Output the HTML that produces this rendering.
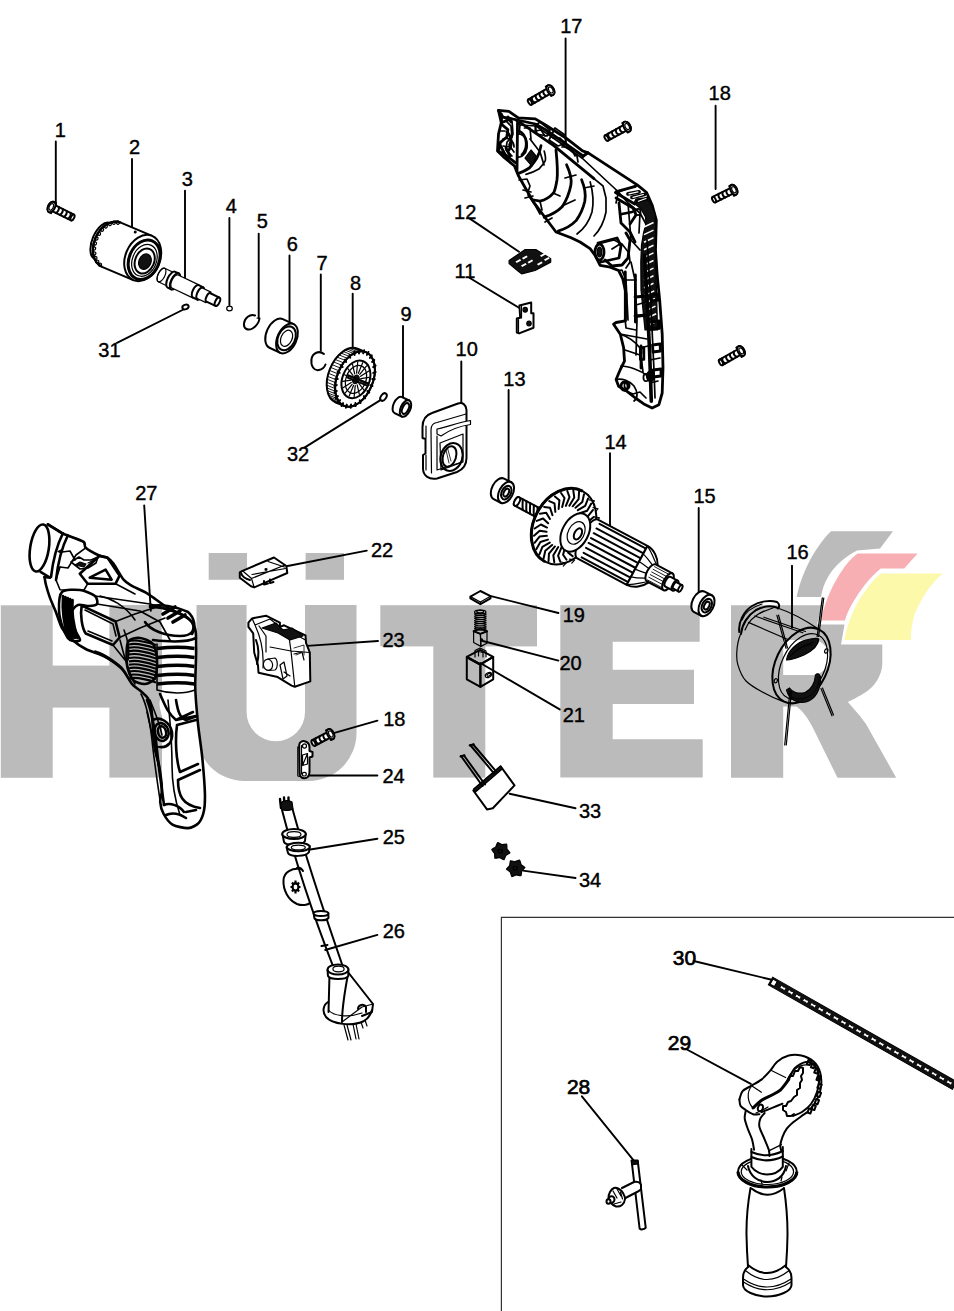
<!DOCTYPE html>
<html><head><meta charset="utf-8">
<style>
html,body{margin:0;padding:0;background:#fff;width:954px;height:1311px;overflow:hidden}
svg{position:absolute;left:0;top:0;display:block}
text{font-family:"Liberation Sans",sans-serif;font-size:20px;fill:#000;text-anchor:middle;stroke:#000;stroke-width:0.4}
.b text{font-size:21px;stroke-width:0.7}
.ln{stroke:#000;stroke-width:1.9;fill:none;stroke-linecap:round}
.p{stroke:#000;stroke-width:1.2;fill:none;stroke-linejoin:round;stroke-linecap:round}
.pw{stroke:#000;stroke-width:1.2;fill:#fff;stroke-linejoin:round;stroke-linecap:round}
.pk{stroke:#000;stroke-width:1.2;fill:#111;stroke-linejoin:round;stroke-linecap:round}
.t{stroke:#000;stroke-width:2;fill:none;stroke-linejoin:round;stroke-linecap:round}
.tw{stroke:#000;stroke-width:2;fill:#fff;stroke-linejoin:round;stroke-linecap:round}
.h{stroke:#000;stroke-width:0.8;fill:none;stroke-linecap:round}
#p_housing .p{stroke-width:1.7}
#p_housing .t{stroke-width:2.8}
#p_drill .p{stroke-width:1.6}
#p_drill .t{stroke-width:2.6}
</style></head>
<body>
<svg width="954" height="1311" viewBox="0 0 954 1311">
<g id="wm" fill="#bbbbbb">
<rect x="0.8" y="605.3" width="51.9" height="172.5"/>
<rect x="109.4" y="605" width="52.6" height="172.6"/>
<rect x="52" y="665.6" width="58" height="42"/>
<path d="M196.5,605 H246.6 V712 A29.2,29.2 0 0 0 305,712 V605 H356.5 V733 A48,48 0 0 1 308.5,781 H244.5 A48,48 0 0 1 196.5,733 Z"/>
<rect x="208.7" y="553" width="38.3" height="26.8"/>
<rect x="305.6" y="553" width="38.4" height="26.8"/>
<rect x="380.3" y="605.2" width="156.7" height="41.2"/>
<rect x="433.3" y="645" width="52" height="132.6"/>
<path d="M560.3,605.2 H699.7 V641.7 H612.7 V669.8 H694 V704 H612.7 V739.3 H702.7 V777.6 H560.3 Z"/>
<path fill-rule="evenodd" d="M731,605.2 L822,605.2 L817,624.6 L844.5,624.6 L841,644.5 L882.3,644.5 L882.3,664 C882,675 875,686 866,692 C858,697 852,700 847.8,702 C855,710 862,718 866,724 L896.2,777.8 L837.5,777.8 L814,730 C808,718 802,710 796.4,706.6 L783.2,706.6 L783.2,777.8 L731,777.8 Z M783.2,640 H812 A17.5,17.5 0 0 1 812,675 H783.2 Z"/>
<path d="M831,531.2 H893 L880,548.5 L857,550.5 C845,557 834,566 828,577 C824,584 822,590 821,597 H796.6 C800,580 808,562 816,550 C821,542 826,536 831,531.2 Z"/>
</g>
<path d="M857.6,553.5 H917.6 L904.2,568.4 H880.7 C870,577 860,590 852,604 C849,610 846,615 845,620.6 H821 C824,605 830,590 838,577 C844,567 850,559 857.6,553.5 Z" fill="#f7afb4"/>
<path d="M880.7,573.4 H942.8 C935,580 928,589 924.3,595.2 C919,604 915,612 913.4,618.7 C911.5,626 911,633 910.9,640 H844.4 C846,630 849,621 853,612 C857,603 861,596 866,590 C870,584 875,578 880.7,573.4 Z" fill="#fcf9aa"/>
<path d="M501.4,1311 V917.4 H954" fill="none" stroke="#333" stroke-width="1.2"/>
<g class="ln">
<path d="M55.8,141.5V205.7 M132,159V234.6 M185,190.6V281 M229.4,218V305 M258.7,233.6V318 M289.5,255.4V326 M320.8,274.5V350.8 M352.7,293.6V352 M403,326V402.6 M461.3,361.5V405"/>
<path d="M469.8,278L521,309 M469.8,218.6L519,251.8 M508.6,390V482.8 M610,453.3V536 M698.7,508V594.8 M792,565.7V627.8 M565.6,38.5V144 M715.6,105.8V189"/>
<path d="M377.4,720.6L329.3,734.3 M485,594.6L558.4,613 M482.7,641L558.4,660.6 M480.3,663L559.7,709.4 M286.3,566.2L366.8,550.6 M307.2,645.9L378,641 M307.3,775.5H377.4 M308.7,849.7L377.4,838.7 M325.2,950L377.4,934.9 M144.2,505.4L150.8,610.8"/>
<path d="M581.9,1096.3L634,1160.8 M686,1049L750.8,1083.8 M693.6,961L770.7,979.5 M117,342.8L187.4,307.5 M304.5,447.6L380.8,399.9 M509.6,793.7L575.5,808.3 M523,870.6L575.5,878"/>
</g>
<g id="p_topleft"><g transform="translate(53.6,208.1) rotate(26.4)"><path class="tw" d="M0,-3.3 A1.6,3.3 0 0 0 0,3.3 L21.1,3.3 L21.1,-3.3 Z"/><ellipse class="tw" cx="21.1" cy="0" rx="1.6" ry="3.3"/><path class="t" d="M4.2,-3.3 C5.6,-1.3 5.6,1.3 4.2,3.3"/><path class="t" d="M8.6,-3.3 C10,-1.3 10,1.3 8.6,3.3"/><path class="t" d="M13,-3.3 C14.4,-1.3 14.4,1.3 13,3.3"/><path class="t" d="M17.4,-3.3 C18.8,-1.3 18.8,1.3 17.4,3.3"/><path class="tw" d="M-2.4,-5.6 A3.4,5.6 0 0 0 -2.4,5.6 L0,5.6 L0,-5.6 Z"/><ellipse class="tw" cx="-2.4" cy="0" rx="3.4" ry="5.6"/><ellipse class="p" cx="-2.6" cy="0" rx="2" ry="3.5"/></g><g transform="translate(142.7,258) rotate(23)"><path class="tw" d="M-44,-19.5 A9.8,19.5 0 0 0 -44,19.5 L-30,19.5 L-30,-19.5 Z"/><path class="tw" d="M-34,-24 A17.3,24 0 0 0 -34,24 L0,24 L0,-24 Z"/><ellipse class="tw" cx="0" cy="0" rx="17.3" ry="24"/><ellipse class="p" cx="-36.6" cy="-22.9" rx="1.5" ry="1.6"/><ellipse class="p" cx="-40.3" cy="-21.2" rx="1.5" ry="1.6"/><ellipse class="p" cx="-43.5" cy="-18.4" rx="1.5" ry="1.6"/><ellipse class="p" cx="-46.3" cy="-14.7" rx="1.5" ry="1.6"/><ellipse class="p" cx="-48.4" cy="-10.2" rx="1.5" ry="1.6"/><ellipse class="p" cx="-49.6" cy="-5.2" rx="1.5" ry="1.6"/><ellipse class="p" cx="-50.1" cy="0" rx="1.5" ry="1.6"/><ellipse class="p" cx="-49.6" cy="5.2" rx="1.5" ry="1.6"/><ellipse class="p" cx="-48.4" cy="10.2" rx="1.5" ry="1.6"/><ellipse class="p" cx="-46.3" cy="14.7" rx="1.5" ry="1.6"/><ellipse class="p" cx="-43.5" cy="18.4" rx="1.5" ry="1.6"/><ellipse class="p" cx="-40.3" cy="21.2" rx="1.5" ry="1.6"/><ellipse class="p" cx="-36.6" cy="22.9" rx="1.5" ry="1.6"/><path d="M-34,-24 A17.3,24 0 0 0 -34,24" fill="none" stroke="#000" stroke-width="2.2"/><ellipse fill="none" stroke="#000" stroke-width="3" cx="2" cy="1" rx="15" ry="20.5"/><ellipse class="p" cx="2.5" cy="1.5" rx="12" ry="16.5"/><ellipse class="t" cx="3" cy="2" rx="9.5" ry="13"/><ellipse class="pk" cx="3.5" cy="2.5" rx="6" ry="8"/><ellipse class="pk" cx="-17" cy="-21" rx="0.9" ry="0.9"/></g><g transform="translate(161.5,275) rotate(25.5)"><path class="pw" d="M0,-7.5 A3.4,7.5 0 0 0 0,7.5 L11,7.5 L11,-7.5 Z"/><path class="tw" d="M11,-8.8 A4,8.8 0 0 0 11,8.8 L15,8.8 L15,-8.8 Z"/><ellipse class="tw" cx="15" cy="0" rx="4" ry="8.8"/><path class="pw" d="M15,-7.2 A3.2,7.2 0 0 0 15,7.2 L38,7.2 L38,-7.2 Z"/><path class="tw" d="M38,-6.8 A3.1,6.8 0 0 0 38,6.8 L43,6.8 L43,-6.8 Z"/><ellipse class="tw" cx="43" cy="0" rx="3.1" ry="6.8"/><path class="pw" d="M43,-5.8 A2.6,5.8 0 0 0 43,5.8 L52,5.8 L52,-5.8 Z"/><path class="tw" d="M52,-4.6 A2.1,4.6 0 0 0 52,4.6 L62,4.6 L62,-4.6 Z"/><ellipse class="tw" cx="62" cy="0" rx="2.1" ry="4.6"/><ellipse class="p" cx="0" cy="0" rx="3.4" ry="7.5"/></g><ellipse class="p" cx="229.5" cy="308.5" rx="2.8" ry="2.4"/><ellipse class="tw" cx="185.5" cy="307" rx="3.2" ry="2.2" transform="rotate(-20 185.5 307)"/><path class="t" d="M255,315.5 C250,313.5 244.5,318 244,323.5 C243.5,329 248,331 252.5,328.5 C256,326.5 259,322 259.5,318.5" /><path class="p" d="M259.5,318.5 L257,318"/><g transform="translate(287,338.5) rotate(25)"><path class="tw" d="M-12,-15.8 A9.5,15.8 0 0 0 -12,15.8 L0,15.8 L0,-15.8 Z"/><ellipse class="tw" cx="0" cy="0" rx="9.5" ry="15.8"/><ellipse class="t" cx="-0.5" cy="0" rx="8.5" ry="12.5"/><ellipse class="p" cx="-0.5" cy="0" rx="5.5" ry="8.5"/></g><path class="t" d="M324,354 C319,350 312.5,353 311.5,359 C310.5,366 314,371 319,370 C322,369.5 324.5,367 325.5,364.5"/><g transform="translate(355,379) rotate(22)"><path class="tw" d="M-9,-29 A18,29 0 0 0 -9,29 L0,29 L0,-29 Z"/><ellipse class="tw" cx="0" cy="0" rx="18" ry="29"/><path class="h" d="M-9,-29 L0,-29 M-10.9,-28.8 L-1.9,-28.8 M-12.9,-28.3 L-3.9,-28.3 M-14.7,-27.5 L-5.7,-27.5 M-16.5,-26.3 L-7.5,-26.3 M-18.3,-24.8 L-9.3,-24.8 M-19.9,-23.1 L-10.9,-23.1 M-21.4,-21.1 L-12.4,-21.1 M-22.7,-18.8 L-13.7,-18.8 M-23.9,-16.3 L-14.9,-16.3 M-24.9,-13.6 L-15.9,-13.6 M-25.7,-10.7 L-16.7,-10.7 M-26.3,-7.8 L-17.3,-7.8 M-26.7,-4.7 L-17.7,-4.7 M-27,-1.6 L-18,-1.6 M-27,1.6 L-18,1.6 M-26.7,4.7 L-17.7,4.7 M-26.3,7.8 L-17.3,7.8 M-25.7,10.7 L-16.7,10.7 M-24.9,13.6 L-15.9,13.6 M-23.9,16.3 L-14.9,16.3 M-22.7,18.8 L-13.7,18.8 M-21.4,21.1 L-12.4,21.1 M-19.9,23.1 L-10.9,23.1 M-18.3,24.8 L-9.3,24.8 M-16.5,26.3 L-7.5,26.3 M-14.7,27.5 L-5.7,27.5 M-12.9,28.3 L-3.9,28.3 M-10.9,28.8 L-1.9,28.8 M-9,29 L0,29"/><ellipse class="t" cx="0" cy="0" rx="18" ry="29"/><path class="t" d="M16.5,0 L18.8,0 M16,6.5 L18.3,7.3 M14.6,12.5 L16.6,14.1 M12.4,17.9 L14.1,20.1 M9.4,22.2 L10.7,24.9 M5.9,25.2 L6.7,28.3 M2,26.8 L2.3,30.1 M-2,26.8 L-2.3,30.1 M-5.9,25.2 L-6.7,28.3 M-9.4,22.2 L-10.7,24.9 M-12.4,17.9 L-14.1,20.1 M-14.6,12.5 L-16.6,14.1 M-16,6.5 L-18.3,7.3 M-16.5,0 L-18.8,0 M-16,-6.5 L-18.3,-7.3 M-14.6,-12.5 L-16.6,-14.1 M-12.4,-17.9 L-14.1,-20.1 M-9.4,-22.2 L-10.7,-24.9 M-5.9,-25.2 L-6.7,-28.3 M-2,-26.8 L-2.3,-30.1 M2,-26.8 L2.3,-30.1 M5.9,-25.2 L6.7,-28.3 M9.4,-22.2 L10.7,-24.9 M12.4,-17.9 L14.1,-20.1 M14.6,-12.5 L16.6,-14.1 M16,-6.5 L18.3,-7.3"/><ellipse class="t" cx="1" cy="0" rx="13.5" ry="19.5"/><ellipse class="p" cx="1" cy="0" rx="10" ry="14.5"/><path class="p" d="M5.5,0 L13.5,0 M5.2,2.5 L12.5,6.9 M4.2,4.6 L9.8,12.7 M2.7,6 L5.8,16.6 M1,6.5 L1,18 M-0.7,6 L-3.8,16.6 M-2.2,4.6 L-7.8,12.7 M-3.2,2.5 L-10.5,6.9 M-3.5,0 L-11.5,0 M-3.2,-2.5 L-10.5,-6.9 M-2.2,-4.6 L-7.8,-12.7 M-0.7,-6 L-3.8,-16.6 M1,-6.5 L1,-18 M2.7,-6 L5.8,-16.6 M4.2,-4.6 L9.8,-12.7 M5.2,-2.5 L12.5,-6.9"/><ellipse class="pk" cx="1" cy="0" rx="3" ry="4.5"/><path class="t" d="M-8,-1 L14,-1 M-8,1.5 L14,1.5"/></g><g transform="translate(405.5,408.5) rotate(25)"><path class="tw" d="M-8,-8.8 A4.8,8.8 0 0 0 -8,8.8 L0,8.8 L0,-8.8 Z"/><ellipse class="tw" cx="0" cy="0" rx="4.8" ry="8.8"/><ellipse class="t" cx="0" cy="0" rx="3" ry="5.8"/></g><ellipse class="tw" cx="383.5" cy="397" rx="2.6" ry="4.2" transform="rotate(35 383.5 397)"/></g>
<g id="p_mid"><path class="tw" d="M422.5,427 C422.5,419 426,415 432,413 L458,403.5 C462.5,402 466,404.5 466.5,410 L466.5,458 C466.5,466 463,469.5 457,472 L437,478.5 C429,480 423.5,476 423,469 L423,455 L425.5,453.5 L425.5,439 L422.5,438 Z"/><path class="p" d="M431.5,473 L431,430 C431,425 433.5,423 437,422.5 L466,414 M426,426 L426,438 M426,455 L426,470"/><path class="pw" d="M437,429 C445,428 458,422 470.5,420.5 L470.5,424.5 C460,426 448,431 441,436 L437,434 Z"/><path class="p" d="M437,436 L437,470 L462,462"/><path class="p" d="M440,443 L463,434 L463,462 L441,470 Z"/><ellipse class="t" cx="451.5" cy="457" rx="10.8" ry="14.2" transform="rotate(18 451.5 457)"/><ellipse class="t" cx="449.5" cy="456.5" rx="6.5" ry="10.5" transform="rotate(18 449.5 456.5)"/><path class="h" d="M446,450 L449,463 M447.5,448 L451,461"/><path class="tw" d="M519.4,305.5 L531.2,302.5 L531.2,313.2 L533.5,313.2 L533.5,327.7 L519.1,333.4 L516.8,332.6 L516.8,318.5 L520.2,317.7Z"/><path class="p" d="M521.5,306 L521.5,318 M518.5,319.5 L518.5,332.5"/><ellipse class="pk" cx="525.2" cy="309.8" rx="2.2" ry="2.4"/><ellipse class="pk" cx="529" cy="323.6" rx="2.2" ry="2.4"/><path class="pk" d="M509.1,260.6 L525.2,249.5 L535.8,249.5 L550.7,258.7 L550.7,262.1 L535.1,270.5 L521.7,273.9 L518.3,271.2 L509.1,263.6Z"/><path d="M515.5,261.5 l4.5,-2.4 l1.2,1.4 l-4.5,2.4 Z" fill="#fff"/><path d="M522,258 l4.5,-2.4 l1.2,1.4 l-4.5,2.4 Z" fill="#fff"/><path d="M521,265.5 l4.5,-2.4 l1.2,1.4 l-4.5,2.4 Z" fill="#fff"/><path d="M527.5,262 l4.5,-2.4 l1.2,1.4 l-4.5,2.4 Z" fill="#fff"/><path d="M540,255.5 l4.5,-2.4 l1.2,1.4 l-4.5,2.4 Z" fill="#fff"/><path d="M544,259.5 l4.5,-2.4 l1.2,1.4 l-4.5,2.4 Z" fill="#fff"/><path d="M537,264 l4.5,-2.4 l1.2,1.4 l-4.5,2.4 Z" fill="#fff"/><g transform="translate(506,492.5) rotate(27)"><path class="tw" d="M-8,-11.5 A6.9,11.5 0 0 0 -8,11.5 L0,11.5 L0,-11.5 Z"/><ellipse class="tw" cx="0" cy="0" rx="6.9" ry="11.5"/><ellipse class="t" cx="0.3" cy="0" rx="4.6" ry="7.2"/><ellipse class="t" cx="0.3" cy="0" rx="2.4" ry="4.2"/></g><g transform="translate(706.5,605.5) rotate(27)"><path class="tw" d="M-8,-11.5 A6.9,11.5 0 0 0 -8,11.5 L0,11.5 L0,-11.5 Z"/><ellipse class="tw" cx="0" cy="0" rx="6.9" ry="11.5"/><ellipse class="t" cx="0.3" cy="0" rx="4.6" ry="7.2"/><ellipse class="t" cx="0.3" cy="0" rx="2.4" ry="4.2"/></g><path class="tw" d="M470.4,596.6 L480.4,591 L490.5,596.2 L490.5,598.4 L480.4,604.2 L470.4,598.4Z"/><path class="p" d="M470.4,596.6 L480.4,602 L490.5,596.2 M480.4,602 L480.4,604.2"/><path class="p" stroke-width="1.6" d="M474.5,612 C474.5,609.5 486,609.5 486,612 C486,614.5 474.5,614.5 474.5,612 Z M474.6,614 C476,615.8 485,615.8 486,614 M474.6,614 C476,612.8 485,612.8 486,614.4 M474.6,616.1 C476,617.9 485,617.9 486,616.1 M474.6,616.1 C476,614.9 485,614.9 486,616.5 M474.6,618.2 C476,620 485,620 486,618.2 M474.6,618.2 C476,617 485,617 486,618.6 M474.6,620.3 C476,622.1 485,622.1 486,620.3 M474.6,620.3 C476,619.1 485,619.1 486,620.7 M474.6,622.4 C476,624.2 485,624.2 486,622.4 M474.6,622.4 C476,621.2 485,621.2 486,622.8 M474.6,624.5 C476,626.3 485,626.3 486,624.5 M474.6,624.5 C476,623.3 485,623.3 486,624.9 M474.6,626.6 C476,628.4 485,628.4 486,626.6 M474.6,626.6 C476,625.4 485,625.4 486,627 M474.6,628.7 C476,630.5 485,630.5 486,628.7 M474.6,628.7 C476,627.5 485,627.5 486,629.1" /><ellipse class="p" cx="480.2" cy="611.6" rx="3.5" ry="1.4"/><path class="t" d="M473.6,631.1 L480.4,628.6 L487,631.3 L480.4,633.9Z"/><path class="p" d="M473.6,631.1 L473.6,642.5 L480.9,646.4 L480.4,633.9Z"/><path class="p" d="M480.4,633.9 L480.9,646.4 L487,643.3 L487,631.3Z"/><ellipse class="pk" cx="481.5" cy="640" rx="1.2" ry="1.2"/><path class="t" d="M466.8,656.9 L480,649.9 L493.2,656.9 L480.4,664.4Z"/><path class="t" d="M466.8,656.9 L466.8,679.3 L480.4,686.8 L480.4,664.4Z"/><path class="t" d="M480.4,664.4 L480.4,686.8 L493.2,679.3 L493.2,656.9Z"/><path class="p" d="M475,657 L475,650.5 L480,648 L486,651 L486,657 M478.5,656 L478.5,651.5 L483,652.5 L483,657"/><path class="t" d="M469,658.5 L479,664"/><ellipse class="p" cx="488.5" cy="675" rx="2.2" ry="3.4" transform="rotate(60 488.5 675)"/><ellipse class="p" cx="488.8" cy="674.8" rx="1.2" ry="2" transform="rotate(60 488.8 674.8)"/><path class="tw" d="M239.8,572.4 L242.5,570.8 L274,557.5 L286.3,566 L287.3,573 L254.2,587.4 L251,586.3 L239.8,577.8Z"/><path class="p" d="M242.5,570.8 L251.5,578.5 L254.2,587.4 M251.5,578.5 L285,565 M252,574.5 L285.5,568.5 M268,561.5 L284.5,567"/><path class="t" d="M241,573 C242,576 246,579 250,580"/><path class="t" d="M264,581 L264,584.5 L268,583.5 M270,579.5 L270,583 L273.5,582"/><ellipse class="pk" cx="266" cy="569.5" rx="1" ry="0.8"/><path class="tw" d="M248.4,622.6 L252.1,618.4 L266,615.7 L279.9,622.6 L279.9,626.9 L284.1,625.3 L305.5,635.4 L306,642.9 L309.8,652.5 L310.3,681.4 L294.8,686.7 L291.6,685.6 L277.7,677.1 L258.5,672.8 L258,665.4 L254.2,652.5 L253.2,633.3 L248.4,626.9Z"/><path class="p" d="M252.1,618.4 L255,625 L270,619 L279.9,626.9 M255,625 C262,640 264,652 263,668 M259,626 L266,636 L266,652 M270,629 L287,630 L305.5,640 L306,643 M288,630 L291,651 L309.8,652.5 M291,651 L294.8,686.7 M291,651 L270,647"/><path class="pk" d="M262,628 L276,623 L283,630 L292,628 L303,636 L290,640 L278,633 Z"/><path class="t" d="M256,640 C259,648 259,656 257,664"/><ellipse class="pw" cx="268" cy="664.8" rx="4.6" ry="5.6" transform="rotate(-10 268 664.8)"/><path class="p" d="M268,659 L275,658 C278,660 278,668 275,670 L268,670.4"/><path class="p" d="M280,665 L284,662 L287,676 L283,679 Z M294,654 L302,652 L304,660 M284,672 L290,676"/><path class="h" d="M294,648 L304,645 L304,655 M296,655 L301,653"/><path class="tw" d="M299.2,745 C299.2,741.5 303,740.5 305.5,741.5 C308.5,742.5 309.5,745 309.5,747.5 L309.5,751 L312.5,752 L312.5,756.5 L309.5,757.5 L309.5,772 C309.5,776.5 307,778.5 304,778.3 C301,778 299.6,776 299.6,772.5 Z"/><path class="p" d="M301.5,745.5 L301.5,774 M299.6,748 L297.8,747 L297.8,776 L299.6,776.5"/><ellipse class="p" cx="304.5" cy="746" rx="2" ry="2.2"/><ellipse class="p" cx="304.3" cy="774.2" rx="2" ry="1.8"/><path class="p" d="M302.5,755 L307.5,753.5 L307.5,764 L302.5,765.5 Z M302.5,765.5 L307.5,753.5"/><g transform="translate(328.5,735.2) rotate(152.5)"><path class="tw" d="M0,-3.1 A1.6,3.1 0 0 0 0,3.1 L16.9,3.1 L16.9,-3.1 Z"/><ellipse class="tw" cx="16.9" cy="0" rx="1.6" ry="3.1"/><path class="t" d="M4.2,-3.1 C5.6,-1.2 5.6,1.2 4.2,3.1"/><path class="t" d="M8.6,-3.1 C10,-1.2 10,1.2 8.6,3.1"/><path class="t" d="M13,-3.1 C14.4,-1.2 14.4,1.2 13,3.1"/><path class="tw" d="M-2.4,-5.4 A3.2,5.4 0 0 0 -2.4,5.4 L0,5.4 L0,-5.4 Z"/><ellipse class="tw" cx="-2.4" cy="0" rx="3.2" ry="5.4"/><ellipse class="p" cx="-2.6" cy="0" rx="1.9" ry="3.3"/></g><path class="tw" d="M473.3,790.5 L500.8,766.5 L514.5,785.4 L492.8,808.2 L487,809.4Z"/><path class="pk" d="M473.6,789 L500.5,766 L502.5,768.8 L475.5,792 Z"/><path class="t" d="M461,756 L482.5,786 M464,755.5 L485,784.5"/><path class="t" d="M460.5,756.5 L464.5,755.2"/><path class="t" d="M470.2,745 L494,773.3 M473.2,744.5 L496.5,771.8"/><path class="t" d="M469.7,745.5 L473.7,744.2"/><path class="pk" d="M509.9,852.8 C509.8,853.2 506.2,855 505.9,855.4 C505.5,855.9 504.3,859.7 503.9,859.8 C503.6,860 500.2,857.8 499.7,857.7 C499.1,857.6 495.2,858.5 494.9,858.2 C494.6,858 494.8,854 494.6,853.5 C494.4,853 491.7,850 491.7,849.6 C491.8,849.2 495.4,847.4 495.7,847 C496.1,846.5 497.3,842.7 497.7,842.6 C498,842.4 501.4,844.6 501.9,844.7 C502.5,844.8 506.4,843.9 506.7,844.2 C507,844.4 506.8,848.4 507,848.9 C507.2,849.4 509.9,852.4 509.9,852.8Z"/><ellipse class="p" stroke="#fff" cx="500.3" cy="851.2" rx="2.2" ry="1.8"/><path class="pk" d="M524.9,867.5 C524.9,867.9 521.9,870.6 521.7,871.1 C521.5,871.6 521.3,875.6 521,875.8 C520.7,876.1 516.8,874.8 516.3,874.9 C515.7,874.9 512.2,876.8 511.8,876.6 C511.5,876.5 510.6,872.5 510.3,872.1 C510,871.6 506.6,869.5 506.5,869.1 C506.5,868.7 509.5,866 509.7,865.5 C509.9,865 510.1,861 510.4,860.8 C510.7,860.5 514.6,861.8 515.1,861.7 C515.7,861.7 519.2,859.8 519.6,860 C519.9,860.1 520.8,864.1 521.1,864.5 C521.4,865 524.8,867.1 524.9,867.5Z"/><ellipse class="p" stroke="#fff" cx="515.2" cy="868.3" rx="2.2" ry="1.8"/><g transform="translate(548.5,91.3) rotate(150)"><path class="tw" d="M0,-3.1 A1.6,3.1 0 0 0 0,3.1 L21.4,3.1 L21.4,-3.1 Z"/><ellipse class="tw" cx="21.4" cy="0" rx="1.6" ry="3.1"/><path class="t" d="M4.2,-3.1 C5.6,-1.2 5.6,1.2 4.2,3.1"/><path class="t" d="M8.6,-3.1 C10,-1.2 10,1.2 8.6,3.1"/><path class="t" d="M13,-3.1 C14.4,-1.2 14.4,1.2 13,3.1"/><path class="t" d="M17.4,-3.1 C18.8,-1.2 18.8,1.2 17.4,3.1"/><path class="tw" d="M-2.4,-5.4 A3.2,5.4 0 0 0 -2.4,5.4 L0,5.4 L0,-5.4 Z"/><ellipse class="tw" cx="-2.4" cy="0" rx="3.2" ry="5.4"/><ellipse class="p" cx="-2.6" cy="0" rx="1.9" ry="3.3"/></g><g transform="translate(624.9,127.8) rotate(150.9)"><path class="tw" d="M0,-3.1 A1.6,3.1 0 0 0 0,3.1 L21,3.1 L21,-3.1 Z"/><ellipse class="tw" cx="21" cy="0" rx="1.6" ry="3.1"/><path class="t" d="M4.2,-3.1 C5.6,-1.2 5.6,1.2 4.2,3.1"/><path class="t" d="M8.6,-3.1 C10,-1.2 10,1.2 8.6,3.1"/><path class="t" d="M13,-3.1 C14.4,-1.2 14.4,1.2 13,3.1"/><path class="t" d="M17.4,-3.1 C18.8,-1.2 18.8,1.2 17.4,3.1"/><path class="tw" d="M-2.4,-5.4 A3.2,5.4 0 0 0 -2.4,5.4 L0,5.4 L0,-5.4 Z"/><ellipse class="tw" cx="-2.4" cy="0" rx="3.2" ry="5.4"/><ellipse class="p" cx="-2.6" cy="0" rx="1.9" ry="3.3"/></g><g transform="translate(731.6,190.9) rotate(153.7)"><path class="tw" d="M0,-3.1 A1.6,3.1 0 0 0 0,3.1 L19.6,3.1 L19.6,-3.1 Z"/><ellipse class="tw" cx="19.6" cy="0" rx="1.6" ry="3.1"/><path class="t" d="M4.2,-3.1 C5.6,-1.2 5.6,1.2 4.2,3.1"/><path class="t" d="M8.6,-3.1 C10,-1.2 10,1.2 8.6,3.1"/><path class="t" d="M13,-3.1 C14.4,-1.2 14.4,1.2 13,3.1"/><path class="tw" d="M-2.4,-5.4 A3.2,5.4 0 0 0 -2.4,5.4 L0,5.4 L0,-5.4 Z"/><ellipse class="tw" cx="-2.4" cy="0" rx="3.2" ry="5.4"/><ellipse class="p" cx="-2.6" cy="0" rx="1.9" ry="3.3"/></g><g transform="translate(739,352.2) rotate(150.5)"><path class="tw" d="M0,-3.1 A1.6,3.1 0 0 0 0,3.1 L20.7,3.1 L20.7,-3.1 Z"/><ellipse class="tw" cx="20.7" cy="0" rx="1.6" ry="3.1"/><path class="t" d="M4.2,-3.1 C5.6,-1.2 5.6,1.2 4.2,3.1"/><path class="t" d="M8.6,-3.1 C10,-1.2 10,1.2 8.6,3.1"/><path class="t" d="M13,-3.1 C14.4,-1.2 14.4,1.2 13,3.1"/><path class="t" d="M17.4,-3.1 C18.8,-1.2 18.8,1.2 17.4,3.1"/><path class="tw" d="M-2.4,-5.4 A3.2,5.4 0 0 0 -2.4,5.4 L0,5.4 L0,-5.4 Z"/><ellipse class="tw" cx="-2.4" cy="0" rx="3.2" ry="5.4"/><ellipse class="p" cx="-2.6" cy="0" rx="1.9" ry="3.3"/></g></g>
<g id="p_arm"><g transform="translate(517,501.5) rotate(28)"><path class="tw" d="M0,-4.8 A2.4,4.8 0 0 0 0,4.8 L52,4.8 L52,-4.8 Z"/><ellipse class="tw" cx="0" cy="0" rx="2.4" ry="4.8"/><path class="t" d="M4,-4.6 C6,-1 6.5,1 9,4.6 M8.2,-4.6 C10.2,-1 10.7,1 13.2,4.6 M12.4,-4.6 C14.4,-1 14.9,1 17.4,4.6 M16.6,-4.6 C18.6,-1 19.1,1 21.6,4.6 M20.8,-4.6 C22.8,-1 23.3,1 25.8,4.6"/><ellipse class="tw" cx="53" cy="0" rx="30" ry="40"/><path d="M53,-40 A30,40 0 0 0 53,40" fill="none" stroke="#000" stroke-width="3"/><path class="t" d="M68.7,0 L74.9,3.7 L80.1,0 M68.3,4.6 L73.9,10 L79.5,7.9 M67.3,8.9 L72,15.9 L77.7,15.5 M65.7,12.9 L69.2,21.1 L74.9,22.3 M63.5,16.3 L65.7,25.4 L71.1,28.2 M60.8,19.1 L61.7,28.5 L66.5,32.9 M57.8,20.9 L57.3,30.4 L61.4,36.1 M54.6,21.9 L52.7,31 L55.8,37.8 M51.4,21.9 L48.1,30.2 L50.2,37.8 M48.2,20.9 L43.7,28.1 L44.6,36.1 M45.2,19.1 L39.7,24.8 L39.5,32.9 M42.5,16.3 L36.4,20.4 L34.9,28.2 M40.3,12.9 L33.7,15.1 L31.1,22.3 M38.7,8.9 L31.9,9.1 L28.3,15.5 M37.7,4.6 L31,2.8 L26.5,7.9 M37.3,0 L31.1,-3.7 L25.9,0 M37.7,-4.6 L32.1,-10 L26.5,-7.9 M38.7,-8.9 L34,-15.9 L28.3,-15.5 M40.3,-12.9 L36.8,-21.1 L31.1,-22.3 M42.5,-16.3 L40.3,-25.4 L34.9,-28.2 M45.2,-19.1 L44.3,-28.5 L39.5,-32.9 M48.2,-20.9 L48.7,-30.4 L44.6,-36.1 M51.4,-21.9 L53.3,-31 L50.2,-37.8 M54.6,-21.9 L57.9,-30.2 L55.8,-37.8 M57.8,-20.9 L62.3,-28.1 L61.4,-36.1 M60.8,-19.1 L66.3,-24.8 L66.5,-32.9 M63.5,-16.3 L69.6,-20.4 L71.1,-28.2 M65.7,-12.9 L72.3,-15.1 L74.9,-22.3 M67.3,-8.9 L74.1,-9.1 L77.7,-15.5 M68.3,-4.6 L75,-2.8 L79.5,-7.9"/><path class="p" d="M63.1,-35.4 l5,-1.5 l-1,4 M70,-30.2 l5,-1.5 l-1,4 M75.5,-22.7 l5,-1.5 l-1,4 M79.2,-13.4 l5,-1.5 l-1,4 M80.9,-3 l5,-1.5 l-1,4 M80.4,7.5 l5,-1.5 l-1,4 M77.8,17.5 l5,-1.5 l-1,4 M73.3,26.2 l5,-1.5 l-1,4 M67.2,32.8 l5,-1.5 l-1,4"/><path class="tw" d="M80,-22 A7.3,22 0 0 0 80,22 L136,22 L136,-22 Z"/><path class="t" d="M83.3,-19 L136,-19 M82.8,-13.5 L136,-13.5 M82.6,-8 L136,-8 M82.5,-2.5 L136,-2.5 M82.6,3 L136,3 M82.7,8.5 L136,8.5 M82.9,14 L136,14 M83.3,19 L136,19"/><path class="tw" d="M136,-22 C144,-22 151,-16 154,-10 L154,10 C151,16 144,22 136,22 Z"/><path class="p" d="M136,-21.8 C144,-18 149,-12 154,-9 M136,-13 C144,-10.8 149,-7.2 154,-5.4 M136,-4.3 C144,-3.6 149,-2.4 154,-1.8 M136,4.3 C144,3.6 149,2.4 154,1.8 M136,13 C144,10.8 149,7.2 154,5.4 M136,21.8 C144,18 149,12 154,9"/><ellipse class="tw" cx="66" cy="0" rx="13" ry="20.5"/><ellipse class="p" cx="67" cy="0" rx="8" ry="12"/><ellipse class="t" cx="69" cy="0" rx="3.5" ry="6"/><path class="tw" d="M152,-9.5 A4.3,9.5 0 0 0 152,9.5 L171,9.5 L171,-9.5 Z"/><ellipse class="tw" cx="171" cy="0" rx="4.3" ry="9.5"/><path class="h" d="M152,-7 L169,-7 M152,-4 L169,-4 M152,-1 L169,-1 M152,2 L169,2 M152,5 L169,5 M152,8 L169,8"/><path class="tw" d="M171,-5.5 A2.5,5.5 0 0 0 171,5.5 L179,5.5 L179,-5.5 Z"/><ellipse class="tw" cx="179" cy="0" rx="2.5" ry="5.5"/><path class="tw" d="M179,-3.6 A1.6,3.6 0 0 0 179,3.6 L185,3.6 L185,-3.6 Z"/><ellipse class="tw" cx="185" cy="0" rx="1.6" ry="3.6"/></g></g>
<g id="p_stator"><path class="p" d="M740.6,634.1 C736,645 736,660 738,665.2 C740,672 743,678 746,681 C752,687 770,697 783.4,701.6"/><path class="p" d="M778.2,608.2 C790,612 808,622 818.4,628.9"/><path class="p" d="M754.8,616 L802.8,632.8 M763.9,617.2 L805.4,631.5 M748.4,622.4 L787.3,639.3 M760,613 L774,607.5"/><path class="t" d="M739.3,632 C738,622 744,611 752,606 C760,601 770,600 777,602 C780,604 779.5,607 778,608.5"/><path class="t" d="M741,634 C742,624 748,615 756,610 C764,606 772,605 778,608"/><path class="p" d="M743,626 C746,618 752,612 760,608 M745,630 C748,622 755,615 764,611 M742,620 C745,612 752,607 762,604"/><ellipse class="t" cx="801.5" cy="665.5" rx="26" ry="40" transform="rotate(25.7 801.5 665.5)"/><ellipse class="p" cx="803" cy="666.5" rx="21.5" ry="35" transform="rotate(25.7 803 666.5)"/><ellipse class="p" cx="826.2" cy="651" rx="1.5" ry="2.2" transform="rotate(20 826.2 651)"/><ellipse class="p" cx="775.8" cy="680.8" rx="1.5" ry="2.2" transform="rotate(20 775.8 680.8)"/><path class="pk" d="M786.5,660 C788,650 798,642 806,640 C812,638.5 817,638 818.8,639 C818.5,646 812,651 804,655 C797,658 791,660 786.5,660 Z"/><path class="h" stroke="#fff" d="M790,657 C795,650 803,645 814,642 M792,654.5 C799,648 806,645 812,644.5"/><path class="pk" d="M786.5,690 C789,699 797,704 806,702 C815,699.5 821,690 820.5,677 C819.5,673.5 817,673 815.5,675 C815,683 811,690 805,692.5 C798,694.5 792,692 789.5,688 Z"/><path class="h" stroke="#fff" d="M792,697 C798,701 808,699 814,692 C818,687 819.5,681 819,676"/><path class="p" d="M776.9,615.3 L786,648.4 M778.5,615 L787.5,648"/><path class="p" d="M822.3,597.8 L817.1,636.7 M823.8,598 L818.6,636.5"/><path class="p" d="M789.9,691.2 L784.7,745 M791.4,691.4 L786.3,745"/><path class="p" d="M821,688.6 L832,715.8 M822.5,688 L833.5,715"/></g>
<g id="p_housing"><path class="t" d="M498.5,110.4 L508.9,111.3 L518.3,117.9 L535.3,118.9 L544.7,124.5 L565.5,137.7 L582.5,150.9 L588.1,152.8 L637.2,184.9 L646.6,192.5 L652.1,205 L656.3,220.1 L655.5,250.3 L657.2,275.5 L659.7,300.7 L662.2,334.2 L663,367.8 L662.2,393 L658.9,404.7 L652.1,408 L643.8,403.9 L635.4,398 L627,391.3 L618.6,386.2 L616.1,379.5 L620.3,369.5 L624.5,361.1 L623.6,347.7 L620.3,334.2 L613.6,324.2 L616.1,322.5 L625.3,320.8 L626.1,294 L622.8,278.9 L618.6,270.5 L610.2,267.1 L600.1,265.4 L595.1,255.4 L590.1,248.7 L580,242 L571.1,237.7 L556,232 L544.7,217 L533.4,201.9 L525.8,188.7 L518.3,175.5 L514.5,166 L503.2,156.6 L497.5,150.9 L498.5,134 L501.3,122.6Z"/><path class="p" d="M514.5,118.9 L520,125 L536,126 L582,158 L618.5,192 L637.2,185"/><path class="p" d="M520,125 L519,134 M536,126 L535,131 L541,130 L545,136"/><path class="p" d="M588.1,152.8 L582,158 M618.5,192 L616,203"/><path class="p" d="M501.3,122.6 L506,121 L511,126 L512,137 L507,142 L506,150 L512,156 M499,131 L505,131 M503,139 C509,137 514,141 514,147"/><path class="p" d="M518.3,134 C524,134 528,140 527,148 C526,154 521,158 517,157"/><path class="p" d="M524.5,128 L530,128 L531,139 M530,139 L540,152 L544,165"/><path class="t" d="M517.5,123.2 L517,171.2"/><path class="t" d="M519.6,122.1 L553.8,145.6 L594,178.7"/><path class="t" d="M541,145.6 C540,152 538,156 536.7,158.4 C534,163 531,166 529.3,168 C525,171 521,172.5 518.6,173.4"/><path class="p" d="M544.2,151 C545,154 546,158 545.3,160.6 C543,165 541,167 538.9,169.1 C534,172 530,173.5 526,174.4"/><path class="t" d="M556,149.9 C557,160 558,172 557,179.8 C556,186 555,190 553.8,192.6 C550,197 545,200 540,201.2 L534,200"/><path class="t" d="M566.6,164.8 C570,172 572,179 570.9,185.1 C569,195 566,201 562.4,206.5 C557,212 551,215 544.2,217.2"/><path class="t" d="M581.6,179.8 C585,188 586,195 584.8,201.2 C583,209 580,215 576.3,220.4 C571,226 565,229 558.1,231.1"/><path class="p" d="M590.2,181.9 C593,192 594,202 592,212 C589,222 584,229 577,234"/><path class="p" d="M594,178.7 L603,186 L606,198 L606,212 C604,222 600,230 594,236"/><path class="t" d="M501.5,114.6 L501.5,124.2 L507.9,129.6 L506.8,137 L500.4,142.4 L498.3,151 L505.8,155.2 L515.4,162.7"/><path class="p" d="M504,118 L512,121 L513,134 L509,145 L514,152 M503,146 L510,147"/><path class="t" d="M508,117 L511,122 M506,148 L510,156"/><path class="p" d="M535,126 L540,122 L550,130 L547,136 L537,134 Z"/><path class="p" d="M548,133 L553,138 L560,138 L565,143 M562,145 L570,150 L577,156 L578,162"/><path class="p" d="M519,180 L527,179 L530,186 L528,192 M523,190 L531,192 M525,198 L533,196"/><path class="p" d="M540,201.2 L542,210 M553,193 L560,196 M562,206 L575,200 M565,178 L576,175 M584,188 L594,186"/><path class="p" d="M528,195 L535,205 L540,214 M545,222 L552,218"/><path class="t" d="M519,131 C527,135 529,147 522,155 M507,132 C512,137 513,146 508,151 M503,122 L511,119 M500,145 L508,160"/><path class="pk" d="M525,158 L531,150 L536,156 L532,166 Z"/><path class="p" d="M618.5,192 L628,203 L640,213 L647,226 L648,240 M628,203 L631,240 L640,250 M640,213 L639,233"/><path class="pk" d="M634,203 L641,209 L645.5,217 L646,224 L643.5,233 L641.5,245 L640.8,262 L641,290 L643,310 L645,330 L657.5,330 L657,310 L656.5,290 L655.5,262 L655.4,240 L655.6,224 L655,214 L652.5,207 L648,200 L642,198 L636,199Z"/><path stroke="#fff" stroke-width="1.5" fill="none" d="M644,227 L653.5,222.5 M644,234.6 L653.5,230.1 M644,242.2 L653.5,237.7 M644,249.8 L653.5,245.3 M644,257.4 L653.5,252.9 M644,265 L653.5,260.5 M644,272.6 L653.5,268.1 M644,280.2 L653.5,275.7 M644,287.8 L653.5,283.3 M644.7,295.4 L654.2,290.9 M645.4,303 L654.9,298.5 M646,310.6 L655.5,306.1 M646.7,318.2 L656.2,313.7 M647.4,325.8 L656.9,321.3"/><path d="M628,193.9 L639,191.8" stroke="#000" stroke-width="3.8" stroke-linecap="round"/><path d="M629,193.9 L638,191.8" stroke="#fff" stroke-width="1.2" stroke-linecap="round"/><path d="M632,197.4 L644.4,194.5" stroke="#000" stroke-width="3.8" stroke-linecap="round"/><path d="M633,197.4 L643.4,194.5" stroke="#fff" stroke-width="1.2" stroke-linecap="round"/><path d="M637.4,201.3 L647,198.5" stroke="#000" stroke-width="3.8" stroke-linecap="round"/><path d="M638.4,201.3 L646,198.5" stroke="#fff" stroke-width="1.2" stroke-linecap="round"/><path class="t" d="M616.3,191.7 L635.6,186.4 M615.4,192.5 L634.7,204 M616,198 L633,208 L636,215 L630,224 M622,214 L632,212 M619,203 L621,223 L630,232 L635,242"/><path class="t" d="M598,243 L617,238 L621,246 L619,258 L601,262"/><ellipse class="t" cx="599.5" cy="252" rx="4.5" ry="8"/><ellipse class="pk" cx="599.5" cy="252" rx="2.2" ry="5"/><path class="t" d="M605,260 L612,266 L622,265 L628,258 L630,240 L626,233"/><path class="t" d="M498.5,110.4 L503,117 L515,119.5 L535.3,124 L546,130 L583,156 L588,152.8"/><path class="p" d="M555,128 L565,135 L566,143 L558,146 L549,140 Z M562,147 C568,146 574,150 575,156"/><ellipse class="p" cx="638" cy="212" rx="2.6" ry="3.2"/><path stroke="#000" stroke-width="3.6" fill="none" stroke-linecap="round" d="M644.6,255.4 C645.5,275 646.5,290 647.1,300.7 C648,320 649,340 649.6,351 C650.2,370 650.8,390 651.3,401.3"/><path class="t" d="M651,295 L658,294 L658.5,300 L651.5,301 Z M652,322 L659,321 L659.5,328 L652,329 Z M652.5,345 L660,344 L660.5,351 L653,352 Z M653,370 L661,369 L661,376 L653,377 Z"/><path class="t" d="M625.3,272 L625.3,320.8 M635.4,275 L635.4,322 M635,297 L647,296 M635,316 L647,315"/><path class="t" d="M640.4,347.7 L643.8,347.7 L643.8,359.4 L640.4,359.4 Z"/><path class="p" d="M620,334 L647,339 M621,366 C628,366 640,370 648,376"/><ellipse class="t" cx="624.5" cy="386.2" rx="3.5" ry="4.2"/><ellipse class="t" cx="650.5" cy="376.2" rx="3.2" ry="4.5"/><path class="p" d="M647,240 C650,280 652,330 654,370 L655,398"/><path class="p" d="M598,244 L614,240 L622,244 L629,253 L630,262 L626,268 M612,249 L620,244"/><path class="p" d="M618.6,270.5 L622,270 L626,280 L628,320 M631,262 L635,280 L637,320 L636,355 M626,280 L636,280"/><path class="p" d="M625.3,320.8 L626,328 L636,330 M636,305 L646,302 M636,317 L646,316"/><path class="p" d="M620.3,334.2 C626,336 634,340 640,348 L643,372 M625,350 L640,355 M640,348 L648,346"/><path class="t" d="M641,346 L641,353 M641,360 L641,368"/><path class="p" d="M616.1,379.5 C622,378 630,381 634,386 C638,392 638,398 634,401"/><ellipse class="p" cx="627" cy="385.5" rx="2.6" ry="3.3"/><ellipse class="p" cx="646" cy="377.5" rx="2.6" ry="3.6"/><path class="p" d="M628,392 L633,394 L640,392 L646,398 M650,383 L658,381 M650,360 L660,358 M649,330 L659,329"/></g>
<g id="p_drill"><path class="" d="M160,700 C162.2,693 172.1,690 178,688 C183.9,686 192,681.9 195.3,687.7 C198.6,693.5 196.7,711.1 197.9,722.8 C199.1,734.5 201.1,746.2 202.3,757.9 C203.5,769.6 204.6,784.2 204.9,793 C205.2,801.8 205,805.5 204,810.5 C203,815.5 201.4,819.9 198.8,822.8 C196.2,825.7 192.6,827.8 188.2,828.1 C183.8,828.4 176.6,827 172.5,824.6 C168.4,822.2 164.9,819.8 163.7,814 C162.4,808.2 164.6,799 165,790 C165.4,781 166,770 166,760 C166,750 166,740 165,730 C164,720 157.8,707 160,700Z" fill="#fff" stroke="none"/><path class="" d="M163,606 C165,601 170.5,608.3 175,610 C179.5,611.7 186.5,612.7 190,616 C193.5,619.3 195,624.3 196,630 C197,635.7 199.5,647 196,650 C192.5,653 180.5,649.7 175,648 C169.5,646.3 165,647 163,640 C161,633 161,611 163,606Z" fill="#fff" stroke="none"/><path class="t" d="M47.9,524.3 C49.9,525.5 60.1,532 62.8,533.5 C65.5,535 65,534.4 67.8,535.5 C70.6,536.6 81.3,540.3 83.7,541.9 C86.1,543.5 83.6,545.9 85.7,547.8 C87.8,549.7 96.8,554.5 99.7,555.8 C102.6,557.1 105.7,556.7 107.6,557.8 C109.5,558.9 111.5,560.9 113.6,563.8 C115.7,566.7 121.2,576.8 123.6,579.7 C126,582.6 128.3,583.8 131.5,585.7 C134.7,587.6 142.7,590.7 147.5,593.6 C152.3,596.5 162.1,604.4 167.4,607.6 C172.7,610.8 183.6,614.6 187.3,617.5 C191,620.4 194.1,624.8 195.3,629.5 C196.5,634.2 196.1,644.8 196.1,652.6 C196.1,660.4 195.1,678.3 195.3,687.7 C195.5,697.1 197,713.4 197.9,722.8 C198.8,732.2 201.4,748.5 202.3,757.9 C203.2,767.3 204.7,786 204.9,793 C205.1,800 204.8,806.5 204,810.5 C203.2,814.5 200.9,820.5 198.8,822.8 C196.7,825.1 191.7,827.9 188.2,828.1 C184.7,828.3 175.8,826.5 172.5,824.6 C169.2,822.7 165.3,817 163.7,814 C162.1,811 160.4,805.1 160.2,801.8 C160,798.5 162,794.2 161.9,789.5 C161.8,784.8 160.2,772.1 159.3,766.7 C158.4,761.3 155.7,753.8 154.9,749.1 C154.1,744.4 153.7,737 153.2,731.6 C152.7,726.2 152.1,713.3 151.4,708.8 C150.7,704.3 149.3,700.5 147.9,698.2 C146.5,695.9 143,693.1 140.9,691.2 C138.8,689.3 134.7,687.3 132.1,684.2 C129.5,681.1 125.1,671.6 121.6,668 C118.1,664.4 110.4,659.5 105.6,657 C100.8,654.5 90.2,651.3 85.7,649 C81.2,646.7 75,642.3 71.8,639.5 C68.6,636.7 64.1,631.7 62,628 C59.9,624.3 57.5,616.1 55.9,612 C54.3,607.9 51.2,601.2 49.9,597.6 C48.6,594 46.7,587.7 46,585 C45.3,582.3 44.7,578.1 44.5,577"/><ellipse class="t" cx="39.5" cy="548" rx="9.3" ry="23.8" transform="rotate(9 39.5 548)"/><path class="t" d="M47.9,524.3 L62.8,533.5 M40.5,571.9 L49.9,577.7 M44.5,577 L49.9,577.7"/><path class="t" d="M62.8,533.5 C57,545 53,560 51,577 M67.8,535.5 C62,547 58,562 56,580"/><path class="p" d="M67.8,535.5 L83.7,541.9 L85.7,547.8 L76,555 L68,568 L60,567"/><path class="p" d="M62,552 L70,551 L75,560"/><path class="p" d="M71,562 L79,557 L84,560 L91,560 L98,557 L96,563 L88,568 L80,569 Z"/><path class="pk" d="M75,565 L80,562 L86,564 L84,567 Z M88,563 L94,560"/><path class="t" d="M79.8,573.7 L99.7,555.8 L107.6,557.8 L119.6,575.7 L115.6,583.7 L87.7,583.7 Z"/><path class="t" d="M89.7,577.7 L105.6,569.7 L111.6,579.7 Z"/><path class="p" d="M87.7,583.7 L84,590 L60,589.7 M115.6,583.7 L135,594 M60,567 L56,580 L60,589.7"/><path class="pk" d="M58,551.5 L62,549.5 L61,553 Z"/><path class="t" d="M62,592 C64.8,589.3 75.6,589.5 80,590 C84.4,590.5 92.7,594.1 95,596 C97.3,597.9 97.8,602.7 97,604 C96.2,605.3 91.5,605.9 89,606 C86.5,606.1 80.3,604.2 78,605 C75.7,605.8 72.5,608.9 72,612 C71.5,615.1 72.9,624.3 74,628 C75.1,631.7 80.5,638.4 80,640 C79.5,641.6 72.3,641.6 70,640 C67.7,638.4 64.5,632 63,628 C61.5,624 59.1,614.8 59,610 C58.9,605.2 59.2,594.7 62,592Z"/><path class="t" d="M63,596 C62,610 64,625 68,638 M65.4,597 C64.4,610 66.4,625 70.4,638 M67.8,598 C66.8,610 68.8,625 72.8,638 M70.2,599 C69.2,610 71.2,625 75.2,638 M72.6,600 C71.6,610 73.6,625 77.6,638"/><path class="t" d="M81.7,605.6 L115.6,621.5 L119.6,637.5 L113,645 L85.7,633.5 C82,628 80,615 81.7,605.6 Z"/><path class="p" d="M85,610 L113,624 L116,636 M88,631 L112,641"/><path class="p" d="M95,596 L150,604 L175,611 M97,604 L140,611 L160,622 L170,640"/><path class="p" d="M115.6,621.5 L135,614 L160,606 M119.6,637.5 L140,628 L165,618"/><path class="p" d="M100,596 C110,598 125,605 135,620 M113,645 L125,660"/><path class="t" d="M150,607 C165,607 185,614 192,622 C196,630 192,636 180,636 C165,636 150,630 145,622"/><path class="t" d="M153,640 C170,642 188,642 196,638"/><path stroke="#000" stroke-width="3.6" stroke-linecap="round" fill="none" d="M163,614 L175,607 M168,618 L180,611 M173,622 L185,615"/><path d="M157,648.5 C170,647 185,647 194.5,648.5" stroke="#000" stroke-width="3.4" fill="none"/><path d="M157,657.5 C170,656 185,656 194.5,657.5" stroke="#000" stroke-width="3.4" fill="none"/><path d="M157,666.5 C170,665 185,665 194.5,666.5" stroke="#000" stroke-width="3.4" fill="none"/><path d="M157,675.5 C170,674 185,674 194.5,675.5" stroke="#000" stroke-width="3.4" fill="none"/><path d="M157,684 C170,682.5 185,682.5 194.5,684" stroke="#000" stroke-width="3.4" fill="none"/><path class="p" d="M157,644 L157,690 C170,694 185,694 195,690"/><path class="t" d="M128,642 C129.7,638.4 136.7,637.7 140,638 C143.3,638.3 150.7,641.1 153,644 C155.3,646.9 156.7,655.5 157,660 C157.3,664.5 156.6,674.8 155,678 C153.4,681.2 147.9,683.7 145,684 C142.1,684.3 135.4,682.5 133,680 C130.6,677.5 127.7,670.1 127,665 C126.3,659.9 126.3,645.6 128,642Z"/><path stroke="#000" stroke-width="2.1" fill="none" d="M129,641 C137,639 147,642 156,645 M129,644.4 C137,642.4 147,645.4 156,648.4 M129,647.8 C137,645.8 147,648.8 156,651.8 M129,651.2 C137,649.2 147,652.2 156,655.2 M129,654.6 C137,652.6 147,655.6 156,658.6 M129,658 C137,656 147,659 156,662 M129,661.4 C137,659.4 147,662.4 156,665.4 M129,664.8 C137,662.8 147,665.8 156,668.8 M129,668.2 C137,666.2 147,669.2 156,672.2 M129,671.6 C137,669.6 147,672.6 156,675.6 M129,675 C137,673 147,676 156,679 M129,678.4 C137,676.4 147,679.4 156,682.4"/><path class="p" d="M120,640 C124,655 128,672 135,684 M124,630 C128,640 130,650 128,660"/><path class="p" d="M105,657 C115,663 125,670 132,684 M95,651 C108,655 120,665 128,678"/><path class="t" d="M160,694 C165,705 167,712 176,720 L196,716 M176,720 L193,712"/><path class="t" d="M177,725 L196,720 M177,725 C175,740 176,760 180,772 L198,764 M178,780 L200,770 M178,780 C178,795 182,805 200,808"/><path class="p" d="M168,700 C170,720 172,745 172,765 C172,785 175,800 180,815"/><path class="p" d="M150,700 C155,712 160,725 162,735 M147,712 C150,725 153,740 156,750"/><ellipse class="t" cx="161.5" cy="732" rx="7" ry="9" transform="rotate(-15 161.5 732)"/><ellipse class="t" cx="162" cy="732" rx="4" ry="5.8" transform="rotate(-15 162 732)"/><path class="t" d="M153,720 C160,716 170,722 172,732 C173,742 168,748 160,747"/><path class="p" d="M153,745 C158,748 165,748 168,744"/><path class="p" d="M156,755 C160,770 162,785 163,800"/><path class="t" d="M164,805 C170,802 180,806 184,812 M166,815 C172,812 180,814 186,818 M186,812 L196,810"/><path class="t" d="M147,700 C152,712 155,730 157,750 C159,770 162,790 164,805"/><path class="p" d="M141,694 C147,705 150,722 152,740 C154,760 157,780 160,800"/><path class="t" d="M176,700 C178,712 180,718 186,720 L197,716"/><path class="t" d="M150,606 C160,604 175,606 188,612 C195,618 196,628 192,634"/></g>
<g id="p_box"><g transform="translate(770.5,981) rotate(29.6)"><rect x="0" y="-4.4" width="211.7" height="8.8" fill="#111" stroke="#000" stroke-width="1"/><rect x="1.2" y="-3" width="5" height="6" fill="#fff" stroke="#000" stroke-width="1.2"/><path d="M12,-1.3 l2.3,0.6 l2.3,-0.6 l0,2.6 l-2.3,-0.6 l-2.3,0.6 Z" fill="#fff"/><path d="M20.7,-1.3 l2.3,0.6 l2.3,-0.6 l0,2.6 l-2.3,-0.6 l-2.3,0.6 Z" fill="#fff"/><path d="M29.4,-1.3 l2.3,0.6 l2.3,-0.6 l0,2.6 l-2.3,-0.6 l-2.3,0.6 Z" fill="#fff"/><path d="M38.1,-1.3 l2.3,0.6 l2.3,-0.6 l0,2.6 l-2.3,-0.6 l-2.3,0.6 Z" fill="#fff"/><path d="M46.8,-1.3 l2.3,0.6 l2.3,-0.6 l0,2.6 l-2.3,-0.6 l-2.3,0.6 Z" fill="#fff"/><path d="M55.5,-1.3 l2.3,0.6 l2.3,-0.6 l0,2.6 l-2.3,-0.6 l-2.3,0.6 Z" fill="#fff"/><path d="M64.2,-1.3 l2.3,0.6 l2.3,-0.6 l0,2.6 l-2.3,-0.6 l-2.3,0.6 Z" fill="#fff"/><path d="M72.9,-1.3 l2.3,0.6 l2.3,-0.6 l0,2.6 l-2.3,-0.6 l-2.3,0.6 Z" fill="#fff"/><path d="M81.6,-1.3 l2.3,0.6 l2.3,-0.6 l0,2.6 l-2.3,-0.6 l-2.3,0.6 Z" fill="#fff"/><path d="M90.3,-1.3 l2.3,0.6 l2.3,-0.6 l0,2.6 l-2.3,-0.6 l-2.3,0.6 Z" fill="#fff"/><path d="M99,-1.3 l2.3,0.6 l2.3,-0.6 l0,2.6 l-2.3,-0.6 l-2.3,0.6 Z" fill="#fff"/><path d="M107.7,-1.3 l2.3,0.6 l2.3,-0.6 l0,2.6 l-2.3,-0.6 l-2.3,0.6 Z" fill="#fff"/><path d="M116.4,-1.3 l2.3,0.6 l2.3,-0.6 l0,2.6 l-2.3,-0.6 l-2.3,0.6 Z" fill="#fff"/><path d="M125.1,-1.3 l2.3,0.6 l2.3,-0.6 l0,2.6 l-2.3,-0.6 l-2.3,0.6 Z" fill="#fff"/><path d="M133.8,-1.3 l2.3,0.6 l2.3,-0.6 l0,2.6 l-2.3,-0.6 l-2.3,0.6 Z" fill="#fff"/><path d="M142.5,-1.3 l2.3,0.6 l2.3,-0.6 l0,2.6 l-2.3,-0.6 l-2.3,0.6 Z" fill="#fff"/><path d="M151.2,-1.3 l2.3,0.6 l2.3,-0.6 l0,2.6 l-2.3,-0.6 l-2.3,0.6 Z" fill="#fff"/><path d="M159.9,-1.3 l2.3,0.6 l2.3,-0.6 l0,2.6 l-2.3,-0.6 l-2.3,0.6 Z" fill="#fff"/><path d="M168.6,-1.3 l2.3,0.6 l2.3,-0.6 l0,2.6 l-2.3,-0.6 l-2.3,0.6 Z" fill="#fff"/><path d="M177.3,-1.3 l2.3,0.6 l2.3,-0.6 l0,2.6 l-2.3,-0.6 l-2.3,0.6 Z" fill="#fff"/><path d="M186,-1.3 l2.3,0.6 l2.3,-0.6 l0,2.6 l-2.3,-0.6 l-2.3,0.6 Z" fill="#fff"/><path d="M194.7,-1.3 l2.3,0.6 l2.3,-0.6 l0,2.6 l-2.3,-0.6 l-2.3,0.6 Z" fill="#fff"/><path d="M203.4,-1.3 l2.3,0.6 l2.3,-0.6 l0,2.6 l-2.3,-0.6 l-2.3,0.6 Z" fill="#fff"/></g><path class="t" d="M750.5,1188 C747.5,1205 746.3,1220 746.5,1235 C746.8,1250 747.5,1260 748,1267 M784,1188 C786.5,1205 787.6,1220 787.5,1235 C787.3,1250 786.5,1260 786,1267"/><path class="t" d="M751.5,1188.5 Q767.5,1201 783.5,1188.5"/><path class="t" d="M748,1265 Q767,1281 786,1265"/><path class="t" d="M748,1267 C744,1270 743,1274 743,1278 L743,1285 C743,1291 755,1296.5 767,1296.5 C779,1296.5 791.5,1291 791.5,1285 L791.5,1278 C791.5,1274 790,1270 786,1267"/><path class="p" d="M743.5,1279 Q767,1295 791,1279 M743.5,1282 Q767,1297.5 791,1282"/><path class="p" d="M746,1271 Q767,1288 788.5,1271"/><ellipse class="tw" cx="767.4" cy="1171.7" rx="29.4" ry="15.3"/><path stroke="#000" stroke-width="3.2" fill="none" d="M738,1171.7 A29.4,15.3 0 0 0 796.8,1171.7"/><ellipse class="p" cx="767.4" cy="1171.7" rx="26.2" ry="12.8"/><path class="t" d="M748,1166 C750,1176 758,1182 767,1182 C776,1182 784,1177 786,1166"/><path class="p" d="M742,1165 L747,1170 M789,1163 L786,1171 M761,1180 L762,1184 M782,1177 L781,1181"/><path class="tw" d="M751.4,1149 L751.4,1166.8 C755,1172 762,1174.4 767,1174.4 C773,1174.4 779,1172 782.8,1166.8 L782.8,1147"/><path class="t" d="M751.4,1152 Q767,1159 782.8,1151 M751.4,1157 Q767,1164 782.8,1156.5"/><path class="tw" d="M739.4,1099.5 C739.9,1098.2 740.9,1093.1 742.6,1091.1 C744.3,1089.1 748.2,1087.6 751,1085.9 C753.8,1084.2 758.6,1081.8 761.4,1079.6 C764.2,1077.4 767.4,1073.9 769.8,1071.2 C772.2,1068.5 774.4,1064.2 777.2,1061.8 C780,1059.4 785.1,1056.4 788.7,1055.5 C792.3,1054.6 797.5,1054.6 801.3,1055.5 C805.1,1056.4 811.1,1059.3 813.9,1061.8 C816.7,1064.3 819,1068.8 820.1,1072.3 C821.2,1075.8 821.5,1081 821.2,1084.8 C820.9,1088.6 819.7,1093.6 818,1097.4 C816.3,1101.2 812.2,1107.2 809.7,1110 C807.2,1112.8 803.8,1114.4 801.3,1116.3 C798.8,1118.2 795.1,1120.7 792.9,1122.6 C790.7,1124.5 788.2,1126.7 786.6,1128.9 C785,1131.1 783.3,1134.7 782.4,1137.2 C781.5,1139.7 780.4,1143.5 780.3,1145.6 C780.1,1147.7 781.2,1150.2 781.4,1151"/><path class="t" d="M739.4,1099.5 C739.6,1100.4 739.6,1104.2 740.5,1105.8 C741.4,1107.4 743.8,1108.7 745.7,1110 C747.6,1111.3 751,1113.6 753.1,1114.2 C755.2,1114.8 758.5,1114.2 759.4,1114.2"/><path class="p" d="M752,1085.9 L761.4,1092.2 M770.9,1070.2 L785.6,1077.5"/><path class="p" d="M751,1087 C747,1092 747,1102 753,1108"/><path stroke="#000" stroke-width="3" fill="none" stroke-linecap="round" d="M753.1,1107.9 C754.4,1106.7 759.2,1101.9 762,1100 C764.8,1098.1 769.3,1096.5 772,1095 C774.7,1093.5 777.8,1092.4 780.3,1090.1 C782.8,1087.8 787.4,1081.2 788.7,1079.6"/><path class="t" d="M761.4,1112.1 C770,1109 776,1106 782.4,1103.7"/><path class="p" d="M756,1113 C760,1111 763,1110 768,1107 M786,1083 C790,1070 800,1064 808,1065"/><ellipse class="t" cx="760.4" cy="1107.9" rx="2.4" ry="3.4" transform="rotate(20 760.4 1107.9)"/><path class="t" d="M788,1080 L790,1076 L793,1076 L795,1071 L798,1071 L800,1067 L803,1068 L803,1073 L801,1076 L802,1080 L800,1083 L800,1088 L797,1090 L797,1095 L794,1097 L791,1101 L788,1102 L786,1106 L783,1106 L783,1110 L786,1112 L787,1116 L791,1116 L794,1114"/><rect x="807.5" y="1060.4" width="3" height="4.4" transform="rotate(20 809 1062.6)" class="tw"/><rect x="811.6" y="1063.5" width="3" height="4.4" transform="rotate(20 813.1 1065.7)" class="tw"/><rect x="814.9" y="1068.9" width="3" height="4.4" transform="rotate(20 816.4 1071.1)" class="tw"/><rect x="817.1" y="1076" width="3" height="4.4" transform="rotate(20 818.6 1078.2)" class="tw"/><rect x="818" y="1084.1" width="3" height="4.4" transform="rotate(20 819.5 1086.3)" class="tw"/><rect x="817.4" y="1092.2" width="3" height="4.4" transform="rotate(20 818.9 1094.4)" class="tw"/><rect x="815.4" y="1099.5" width="3" height="4.4" transform="rotate(20 816.9 1101.7)" class="tw"/><rect x="812.2" y="1105.3" width="3" height="4.4" transform="rotate(20 813.7 1107.5)" class="tw"/><rect x="808.2" y="1108.8" width="3" height="4.4" transform="rotate(20 809.7 1111)" class="tw"/><path class="t" d="M789,1079 C789.9,1077.3 792.5,1070.5 795,1068 C797.5,1065.5 803,1062.3 806,1062 C809,1061.7 813,1063.6 815,1066 C817,1068.4 818.7,1074.1 819,1078 C819.3,1081.9 818.2,1088.1 817,1092 C815.8,1095.9 813.2,1101 811,1104 C808.8,1107 804.7,1110.2 802,1112 C799.3,1113.8 794.4,1115.4 793,1116"/><path class="t" d="M745.7,1111 C745.6,1112.1 744.4,1115.7 744.7,1118.4 C745,1121.1 746.7,1125.8 747.8,1128.9 C748.9,1132 751.1,1136.2 752,1139.3 C752.9,1142.4 753.8,1148.2 754.1,1149.8"/><path class="t" d="M764.6,1113.1 C764,1113.9 761.2,1116.3 760.4,1118.4 C759.6,1120.5 758.8,1123.7 759.4,1126.8 C760,1129.9 763.2,1135.8 764.6,1139.3 C766,1142.8 768.1,1147.3 768.8,1149.8 C769.5,1152.3 769.4,1155.1 769.5,1156"/><path class="p" d="M768.8,1150.9 L781.4,1144.6"/><path class="tw" d="M631.6,1160.6 L637.7,1160.6 L645.7,1227.7 C644,1229.5 641,1230 639.6,1228.5 Z"/><path class="pk" d="M631.4,1160.6 L637.9,1160.6 L638.2,1164 L632,1164.6 Z"/><path class="tw" d="M622,1188 L634,1182 C637,1181 640.5,1182.5 641,1185 L641,1188.5 C641,1190 639,1191 637,1192 L624.5,1198.5"/><path class="tw" d="M614,1188 C615.5,1187.5 617.5,1188.2 619,1189 C620.5,1189.8 622,1191.3 623,1193 C624,1194.7 625.2,1197 625,1199 C624.8,1201 623.5,1203.8 622,1205 C620.5,1206.2 617.8,1206.8 616,1206.5 C614.2,1206.2 612.2,1204.4 611,1203 C609.8,1201.6 608.7,1199.8 608.5,1198 C608.3,1196.2 609.1,1193.7 610,1192 C610.9,1190.3 612.5,1188.5 614,1188Z"/><path class="p" d="M613,1191 L617,1198 M617,1189 L621,1196 M620.5,1192 L622.5,1199 M614,1204 L621,1202"/><ellipse class="tw" cx="611.5" cy="1199.5" rx="3" ry="3.2"/><ellipse class="tw" cx="608.5" cy="1201.5" rx="2" ry="2.2"/></g>
<g id="p_cord"><path class="t" d="M282,810 C295,860 315,920 334.5,970 M292.5,809 C305,855 325,915 343,967"/><path stroke="#000" stroke-width="2.4" fill="none" stroke-linecap="round" d="M281,808 L280,799 M284.5,807 L284,797.5 M288.5,806 L288.5,797.5"/><path class="pk" d="M280.5,803 C284,800 289,800 292,802 L293,809 C289,811 284,811 281.5,809 Z"/><path class="tw" d="M282.5,834 L284,842 C286,846 302,846 305,841 L305.7,834"/><ellipse class="tw" cx="294" cy="834" rx="11.8" ry="5"/><ellipse class="p" cx="294" cy="834.5" rx="7" ry="2.8"/><path class="tw" d="M286.5,847 L288,853 C290,857 306,857 309,852 L309.7,846"/><ellipse class="tw" cx="298.3" cy="847" rx="11.4" ry="4.2"/><ellipse class="p" cx="298.3" cy="847.5" rx="7" ry="2.4"/><path class="t" d="M300,869 C292,868 284,872 283.5,880 C283,890 288,900 297,904 C302,906 308,905 310,903"/><path class="t" d="M297,868 C300,867 302,869 303,871"/><path stroke="#000" stroke-width="2.2" fill="none" d="M297.5,887 L300.5,887 M296.9,888.8 L299,891.5 M295.5,889.6 L295.5,893.4 M294.1,888.8 L292,891.5 M293.5,887 L290.5,887 M294.1,885.2 L292,882.5 M295.5,884.4 L295.5,880.6 M296.9,885.2 L299,882.5"/><ellipse class="t" cx="295.5" cy="887" rx="3" ry="3.8"/><path class="tw" d="M313.8,914 L314.5,918.5 C317,921 326,921 328.5,918 L328.3,913"/><ellipse class="tw" cx="321" cy="913.5" rx="7.4" ry="2.6"/><path class="t" d="M321.5,946 L327.5,945"/><path class="t" d="M329.5,974.5 L328.5,1012 M348.3,972.5 L373,1004 L372,1012 L362,1016 M348.3,972.5 C345,990 342,1008 342,1022"/><path class="tw" d="M327.5,970 L328,976 C330,980 346,980 348.3,976 L348.3,969"/><ellipse class="tw" cx="338" cy="969.5" rx="10.4" ry="5"/><ellipse class="p" cx="338.5" cy="969" rx="5.6" ry="2.8"/><path class="p" d="M342,1022 L362,1007 L373,1004"/><path class="t" d="M358,1009 C358,1005 364,1003 366,1007 L366,1012"/><path class="t" d="M328,1002 C323,1005 322,1012 326,1017 C332,1024 352,1027 364,1021 C369,1018 371,1014 372,1010"/><path class="p" d="M328.5,1010 C333,1016 348,1018 362,1013"/><path class="p" d="M344,1025 L348,1040 M347,1025 L351,1040 M353,1024 L356,1039 M356,1024 L359,1039"/><path class="p" d="M361,1022 L363,1028 M365,1020 L367,1026"/></g>
<g id="labels">
<text x="60.4" y="137">1</text>
<text x="134.6" y="154">2</text>
<text x="187.4" y="185.5">3</text>
<text x="231.4" y="213">4</text>
<text x="262.2" y="228">5</text>
<text x="292.2" y="250.5">6</text>
<text x="322" y="269.6">7</text>
<text x="355.5" y="289.5">8</text>
<text x="406" y="320.8">9</text>
<text x="466.7" y="356">10</text>
<text x="465" y="278">11</text>
<text x="465.2" y="218.6">12</text>
<text x="514.4" y="385.6">13</text>
<text x="615.6" y="448.6">14</text>
<text x="704.5" y="503">15</text>
<text x="797.6" y="559">16</text>
<text x="571.3" y="33">17</text>
<text x="719.7" y="100">18</text>
<text x="394.3" y="726">18</text>
<text x="573.8" y="622">19</text>
<text x="570.6" y="669.9">20</text>
<text x="573.8" y="721.6">21</text>
<text x="382" y="557.2">22</text>
<text x="393.6" y="647">23</text>
<text x="393.6" y="782.6">24</text>
<text x="393.8" y="844.2">25</text>
<text x="393.8" y="937.6">26</text>
<text x="146.3" y="500">27</text>
<text x="109.4" y="356.6">31</text>
<text x="298" y="461">32</text>
<text x="590" y="818">33</text>
<text x="590" y="886.5">34</text>
</g>
<g class="b">
<text x="578.6" y="1094">28</text>
<text x="679.5" y="1050.3">29</text>
<text x="684.5" y="964.7">30</text>
</g>
</svg>
</body></html>
